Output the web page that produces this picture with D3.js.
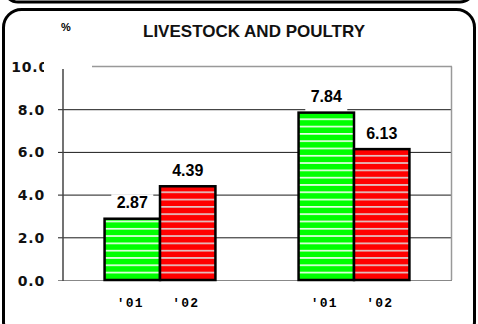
<!DOCTYPE html>
<html>
<head>
<meta charset="utf-8">
<script src="https://cdn.jsdelivr.net/npm/d3@7"></script>
<style>
  body { margin: 0; background: #fff; }
  svg { display: block; }
</style>
</head>
<body>
<script>
const width = 478;
const height = 324;

// data
const groups = ["g1", "g2"];
const years = ["'01", "'02"];
const values = [[2.87, 4.39], [7.84, 6.13]];
const yTicks = [0, 2, 4, 6, 8, 10];
const title = "LIVESTOCK AND POULTRY";

const color = {
    bar: ["#00ff00", "#ff0000"],
    stripe: ["#e4ffe4", "#e2c6c6"],
    grid: "#1a1a1a",
    frame: "#000"
};

const plot = { left: 63, right: 451, top: 66.5, bottom: 280 };

let svg = d3.select("body").append("svg")
    .attr("width", width)
    .attr("height", height)

// stripes
let defs = svg.append("defs")
color.bar.forEach(function (c, i) {
    let p = defs.append("pattern")
        .attr("id", "stripe" + i)
        .attr("patternUnits", "userSpaceOnUse")
        .attr("width", 10)
        .attr("height", 7.3)
        .attr("patternTransform", "translate(0," + (plot.bottom - 1) + ")")
    p.append("rect").attr("width", 10).attr("height", 7.3).attr("fill", c)
    p.append("rect").attr("y", 0).attr("width", 10).attr("height", 1.7).attr("fill", color.stripe[i])
})
defs.append("clipPath").attr("id", "topLabelClip")
    .append("rect").attr("x", 0).attr("y", 50).attr("width", 44).attr("height", 25)

// frames
svg.append("rect")
    .attr("x", 4).attr("y", -40).attr("width", 470).attr("height", 42)
    .attr("rx", 14)
    .attr("fill", "#fff").attr("stroke", color.frame).attr("stroke-width", 3)
svg.append("rect")
    .attr("x", 3.5).attr("y", 9.5).attr("width", 471).attr("height", 330)
    .attr("rx", 18)
    .attr("fill", "#fff").attr("stroke", color.frame).attr("stroke-width", 3)

let y = d3.scaleLinear().domain([0, 10]).range([plot.bottom, plot.top]);
let x0 = d3.scaleBand().domain(groups).range([plot.left, plot.right]).padding(0);
let x1 = d3.scaleBand().domain(years).range([0, x0.bandwidth()]).paddingInner(0).paddingOuter(0.75);

// grid
svg.append("g").selectAll("line")
    .data(yTicks.filter(d => d > 0 && d < 10))
    .enter().append("line")
    .attr("x1", plot.left - 5).attr("x2", plot.right)
    .attr("y1", d => y(d) + 0.5).attr("y2", d => y(d) + 0.5)
    .attr("stroke", color.grid).attr("stroke-width", 1)
svg.append("line")
    .attr("x1", 92).attr("x2", plot.right + 1)
    .attr("y1", y(10)).attr("y2", y(10))
    .attr("stroke", "#999").attr("stroke-width", 1.5)
svg.append("line")
    .attr("x1", plot.right + 0.5).attr("x2", plot.right + 0.5)
    .attr("y1", y(10)).attr("y2", plot.bottom)
    .attr("stroke", "#999").attr("stroke-width", 1.5)
svg.append("line")
    .attr("x1", plot.left - 5).attr("x2", plot.right + 1)
    .attr("y1", plot.bottom + 0.5).attr("y2", plot.bottom + 0.5)
    .attr("stroke", "#888").attr("stroke-width", 1.2)
svg.append("line")
    .attr("x1", plot.left).attr("x2", plot.left)
    .attr("y1", 69).attr("y2", plot.bottom + 1)
    .attr("stroke", "#444").attr("stroke-width", 1.5)

// y labels
svg.append("g").selectAll("text")
    .data(yTicks)
    .enter().append("text")
    .attr("x", d => d === 10 ? 49 : 45)
    .attr("y", d => y(d) + 5.5)
    .attr("text-anchor", "end")
    .attr("clip-path", d => d === 10 ? "url(#topLabelClip)" : null)
    .attr("font-family", "DejaVu Sans, Verdana, sans-serif")
    .attr("font-weight", "bold")
    .attr("font-size", 14)
    .attr("letter-spacing", 0.8)
    .attr("fill", "#111")
    .text(d => d3.format(".1f")(d))

// titles
svg.append("text")
    .attr("x", 66).attr("y", 31)
    .attr("text-anchor", "middle")
    .attr("font-family", "Liberation Sans, Arial, sans-serif")
    .attr("font-weight", "bold")
    .attr("font-size", 11)
    .text("%")
svg.append("text")
    .attr("x", 254).attr("y", 37)
    .attr("text-anchor", "middle")
    .attr("font-family", "Liberation Sans, Arial, sans-serif")
    .attr("font-weight", "bold")
    .attr("font-size", 17)
    .attr("fill", "#111")
    .text(title)

// bars
let cells = [];
groups.forEach(function (g, gi) {
    years.forEach(function (yr, yi) {
        cells.push({ g: g, yr: yr, yi: yi, v: values[gi][yi] });
    })
})

let labelG = svg.append("g")
let labels = labelG.selectAll("g")
    .data(cells)
    .enter().append("g")
    .attr("transform", d => "translate(" + (x0(d.g) + x1(d.yr) + x1.bandwidth() / 2) + "," + (y(d.v) - 10.5) + ")")
labels.append("rect")
    .attr("x", -21).attr("y", -14).attr("width", 42).attr("height", 24)
    .attr("fill", "#fff")
labels.append("text")
    .attr("text-anchor", "middle")
    .attr("font-family", "Liberation Sans, Arial, sans-serif")
    .attr("font-weight", "bold")
    .attr("font-size", 16)
    .text(d => d.v.toFixed(2))

svg.append("g").selectAll("rect")
    .data(cells)
    .enter().append("rect")
    .attr("x", d => x0(d.g) + x1(d.yr))
    .attr("y", d => y(d.v))
    .attr("width", x1.bandwidth())
    .attr("height", d => plot.bottom - y(d.v))
    .attr("fill", d => "url(#stripe" + d.yi + ")")
    .attr("stroke", "#000")
    .attr("stroke-width", 2.5)

// x labels
svg.append("g").selectAll("text")
    .data(cells)
    .enter().append("text")
    .attr("x", d => x0(d.g) + x1(d.yr) + x1.bandwidth() / 2 - 2)
    .attr("y", 307)
    .attr("text-anchor", "middle")
    .attr("font-family", "Liberation Mono, Courier New, monospace")
    .attr("font-weight", "bold")
    .attr("font-size", 13)
    .attr("letter-spacing", 1.2)
    .text(d => d.yr)
</script>
</body>
</html>
